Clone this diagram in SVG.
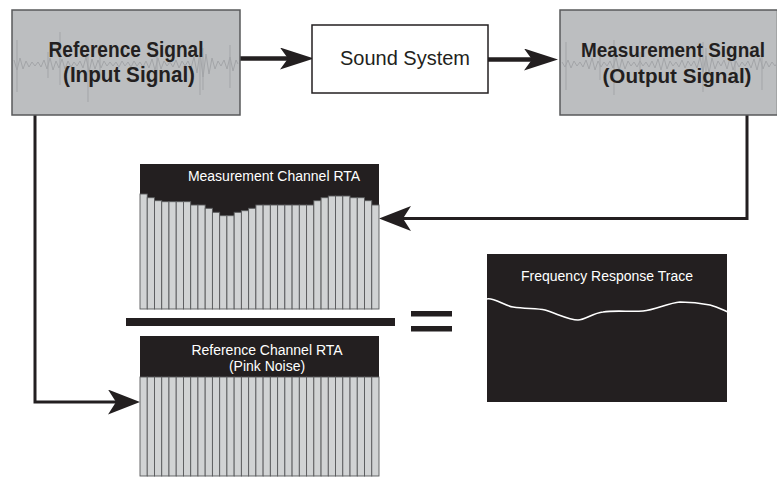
<svg xmlns="http://www.w3.org/2000/svg" width="777" height="477" viewBox="0 0 777 477">
<style>
.sigbox{fill:#bcbec0;stroke:#58595b;stroke-width:1.5}
.wave{fill:none;stroke:#a3a5a8;stroke-width:1}
.big{font-family:"Liberation Sans",Arial,sans-serif;font-weight:bold;font-size:22px;fill:#231f20;text-anchor:middle}
.big21{font-size:21px}
.mid{font-family:"Liberation Sans",Arial,sans-serif;font-size:20px;fill:#231f20;text-anchor:middle}
.small{font-family:"Liberation Sans",Arial,sans-serif;font-size:14px;fill:#ffffff;text-anchor:middle}
.bar{fill:#d1d3d4;stroke:#58595b;stroke-width:0.9}
.dark{fill:#231f20}
.conn{fill:none;stroke:#231f20;stroke-linejoin:miter}
</style>
<defs>
<marker id="arrow" viewBox="0 0 32 25" markerWidth="32" markerHeight="25" markerUnits="userSpaceOnUse" refX="8" refY="12.5" orient="auto">
<path d="M0,0 L32,12.5 L0,25 L8,12.5 Z" fill="#231f20"/>
</marker>
<marker id="arrowTop" viewBox="0 0 34 22" markerWidth="34" markerHeight="22" markerUnits="userSpaceOnUse" refX="8" refY="11" orient="auto">
<path d="M0,0 L34,11 L0,22 L8,11 Z" fill="#231f20"/>
</marker>
<clipPath id="clipL"><rect x="12" y="10" width="228" height="105"/></clipPath>
<clipPath id="clipR"><rect x="560" y="10" width="217" height="105"/></clipPath>
<clipPath id="clipF"><rect x="487" y="254" width="240" height="148"/></clipPath>
</defs>

<rect width="777" height="477" fill="#ffffff"/>

<g id="connectors">
<path class="conn" stroke-width="4.5" d="M240,58.5 H288" marker-end="url(#arrowTop)"/>
<path class="conn" stroke-width="4.5" d="M488,59.5 H532" marker-end="url(#arrowTop)"/>
<path class="conn" stroke-width="3" d="M747,115 V218.5 H403" marker-end="url(#arrow)"/>
<path class="conn" stroke-width="3" d="M35,115 V402 H116" marker-end="url(#arrow)"/>
</g>

<g id="reference-signal">
<rect class="sigbox" x="12" y="10" width="228" height="105"/>
<g clip-path="url(#clipL)">
<polyline class="wave" points="14,60 17,70 20,58 23,69 26,61 29,67 32,62 35,66 38,62 41,67 44,60 47,69 50,58 53,70 56,61 59,68 62,59 65,69 68,61 71,67 74,62 77,66 80,61 83,68 86,57 89,72 92,59 95,69 98,60 101,68 104,61 107,66 110,62 113,66 116,62 119,67 122,61 125,66 128,62 131,67 134,61 137,66 140,62 143,67 146,61 149,68 152,59 155,70 158,58 161,69 164,61 167,66 170,62 173,67 176,60 179,68 182,61 185,66 188,61 191,68 194,57 197,73 200,52 203,77 206,54 209,74 212,58 215,69 218,61 221,66 224,60 227,69 230,57 233,71 236,60 238,64"/>
<path class="wave" d="M17,40V92 M48,52V78 M60,32V85 M88,55V102 M100,45V80 M157,45V85 M200,40V95 M203,48V90 M230,45V88"/>
</g>
<text class="big" x="126" y="57" textLength="155" lengthAdjust="spacingAndGlyphs">Reference Signal</text>
<text class="big" x="129" y="82" textLength="132" lengthAdjust="spacingAndGlyphs">(Input Signal)</text>
</g>

<g id="sound-system">
<rect x="312" y="25" width="176" height="68" fill="#ffffff" stroke="#231f20" stroke-width="1.5"/>
<text class="mid" x="405" y="65">Sound System</text>
</g>

<g id="measurement-signal">
<rect class="sigbox" x="560" y="10" width="217.5" height="105"/>
<g clip-path="url(#clipR)">
<polyline class="wave" points="562,62 565,67 568,60 571,68 574,61 577,66 580,62 583,67 586,60 589,69 592,58 595,70 598,61 601,67 604,62 607,66 610,61 613,68 616,57 619,71 622,59 625,69 628,61 631,66 634,62 637,67 640,61 643,66 646,62 649,67 652,61 655,68 658,59 661,70 664,58 667,69 670,61 673,66 676,62 679,67 682,60 685,68 688,61 691,66 694,61 697,68 700,57 703,72 706,56 709,73 712,58 715,69 718,61 721,66 724,60 727,69 730,58 733,70 736,61 739,67 742,62 745,66 748,61 751,68 754,59 757,70 760,58 763,69 766,61 769,67 772,62 775,66 778,62"/>
<path class="wave" d="M566,42V90 M600,48V80 M614,40V95 M640,52V82 M703,42V92 M706,48V86 M735,50V84 M762,44V90"/>
</g>
<text class="big big21" x="673" y="57" textLength="184" lengthAdjust="spacingAndGlyphs">Measurement Signal</text>
<text class="big big21" x="677" y="83" textLength="149" lengthAdjust="spacingAndGlyphs">(Output Signal)</text>
</g>

<g id="measurement-rta">
<rect class="dark" x="140" y="164" width="239" height="145"/>
<rect class="bar" x="140" y="194" width="7.24" height="115"/>
<rect class="bar" x="147.24" y="197.7" width="7.24" height="111.3"/>
<rect class="bar" x="154.48" y="200.7" width="7.24" height="108.3"/>
<rect class="bar" x="161.73" y="201.7" width="7.24" height="107.3"/>
<rect class="bar" x="168.97" y="201.7" width="7.24" height="107.3"/>
<rect class="bar" x="176.21" y="201.7" width="7.24" height="107.3"/>
<rect class="bar" x="183.45" y="201.7" width="7.24" height="107.3"/>
<rect class="bar" x="190.70" y="205" width="7.24" height="104"/>
<rect class="bar" x="197.94" y="205" width="7.24" height="104"/>
<rect class="bar" x="205.18" y="208.3" width="7.24" height="100.7"/>
<rect class="bar" x="212.42" y="212.3" width="7.24" height="96.7"/>
<rect class="bar" x="219.67" y="215.7" width="7.24" height="93.3"/>
<rect class="bar" x="226.91" y="215.7" width="7.24" height="93.3"/>
<rect class="bar" x="234.15" y="212.3" width="7.24" height="96.7"/>
<rect class="bar" x="241.39" y="210.7" width="7.24" height="98.3"/>
<rect class="bar" x="248.64" y="208.3" width="7.24" height="100.7"/>
<rect class="bar" x="255.88" y="205" width="7.24" height="104"/>
<rect class="bar" x="263.12" y="205" width="7.24" height="104"/>
<rect class="bar" x="270.36" y="205" width="7.24" height="104"/>
<rect class="bar" x="277.61" y="205" width="7.24" height="104"/>
<rect class="bar" x="284.85" y="205" width="7.24" height="104"/>
<rect class="bar" x="292.09" y="205" width="7.24" height="104"/>
<rect class="bar" x="299.33" y="205" width="7.24" height="104"/>
<rect class="bar" x="306.58" y="205" width="7.24" height="104"/>
<rect class="bar" x="313.82" y="200.7" width="7.24" height="108.3"/>
<rect class="bar" x="321.06" y="197.7" width="7.24" height="111.3"/>
<rect class="bar" x="328.30" y="196" width="7.24" height="113"/>
<rect class="bar" x="335.55" y="196" width="7.24" height="113"/>
<rect class="bar" x="342.79" y="196" width="7.24" height="113"/>
<rect class="bar" x="350.03" y="197.7" width="7.24" height="111.3"/>
<rect class="bar" x="357.27" y="197.7" width="7.24" height="111.3"/>
<rect class="bar" x="364.52" y="200.7" width="7.24" height="108.3"/>
<rect class="bar" x="371.76" y="205" width="7.24" height="104"/>
<text class="small" x="274" y="181">Measurement Channel RTA</text>
</g>

<g id="divider">
<rect class="dark" x="126" y="318" width="269" height="8"/>
</g>

<g id="equals">
<rect class="dark" x="411" y="311" width="41" height="5.5"/>
<rect class="dark" x="411" y="326" width="41" height="5.5"/>
</g>

<g id="reference-rta">
<rect class="dark" x="140" y="336" width="239" height="41"/>
<rect class="bar" x="140" y="377" width="7.24" height="99"/>
<rect class="bar" x="147.24" y="377" width="7.24" height="99"/>
<rect class="bar" x="154.48" y="377" width="7.24" height="99"/>
<rect class="bar" x="161.73" y="377" width="7.24" height="99"/>
<rect class="bar" x="168.97" y="377" width="7.24" height="99"/>
<rect class="bar" x="176.21" y="377" width="7.24" height="99"/>
<rect class="bar" x="183.45" y="377" width="7.24" height="99"/>
<rect class="bar" x="190.70" y="377" width="7.24" height="99"/>
<rect class="bar" x="197.94" y="377" width="7.24" height="99"/>
<rect class="bar" x="205.18" y="377" width="7.24" height="99"/>
<rect class="bar" x="212.42" y="377" width="7.24" height="99"/>
<rect class="bar" x="219.67" y="377" width="7.24" height="99"/>
<rect class="bar" x="226.91" y="377" width="7.24" height="99"/>
<rect class="bar" x="234.15" y="377" width="7.24" height="99"/>
<rect class="bar" x="241.39" y="377" width="7.24" height="99"/>
<rect class="bar" x="248.64" y="377" width="7.24" height="99"/>
<rect class="bar" x="255.88" y="377" width="7.24" height="99"/>
<rect class="bar" x="263.12" y="377" width="7.24" height="99"/>
<rect class="bar" x="270.36" y="377" width="7.24" height="99"/>
<rect class="bar" x="277.61" y="377" width="7.24" height="99"/>
<rect class="bar" x="284.85" y="377" width="7.24" height="99"/>
<rect class="bar" x="292.09" y="377" width="7.24" height="99"/>
<rect class="bar" x="299.33" y="377" width="7.24" height="99"/>
<rect class="bar" x="306.58" y="377" width="7.24" height="99"/>
<rect class="bar" x="313.82" y="377" width="7.24" height="99"/>
<rect class="bar" x="321.06" y="377" width="7.24" height="99"/>
<rect class="bar" x="328.30" y="377" width="7.24" height="99"/>
<rect class="bar" x="335.55" y="377" width="7.24" height="99"/>
<rect class="bar" x="342.79" y="377" width="7.24" height="99"/>
<rect class="bar" x="350.03" y="377" width="7.24" height="99"/>
<rect class="bar" x="357.27" y="377" width="7.24" height="99"/>
<rect class="bar" x="364.52" y="377" width="7.24" height="99"/>
<rect class="bar" x="371.76" y="377" width="7.24" height="99"/>
<text class="small" x="267" y="355">Reference Channel RTA</text>
<text class="small" x="267" y="371">(Pink Noise)</text>
</g>

<g id="frequency-response">
<rect class="dark" x="487" y="254" width="240" height="148"/>
<text class="small" x="607" y="281">Frequency Response Trace</text>
<path clip-path="url(#clipF)" d="M487,299 C493,297 505,306 513,307 C525,309 537,308 545,310 C560,315 570,320 578,320 C585,320 593,313 603,312 C615,310 630,312 643,311 C655,310 668,303 680,302 C690,302 700,303 710,305 C718,307 723,310 728,312" fill="none" stroke="#ffffff" stroke-width="1.6"/>
</g>
</svg>
